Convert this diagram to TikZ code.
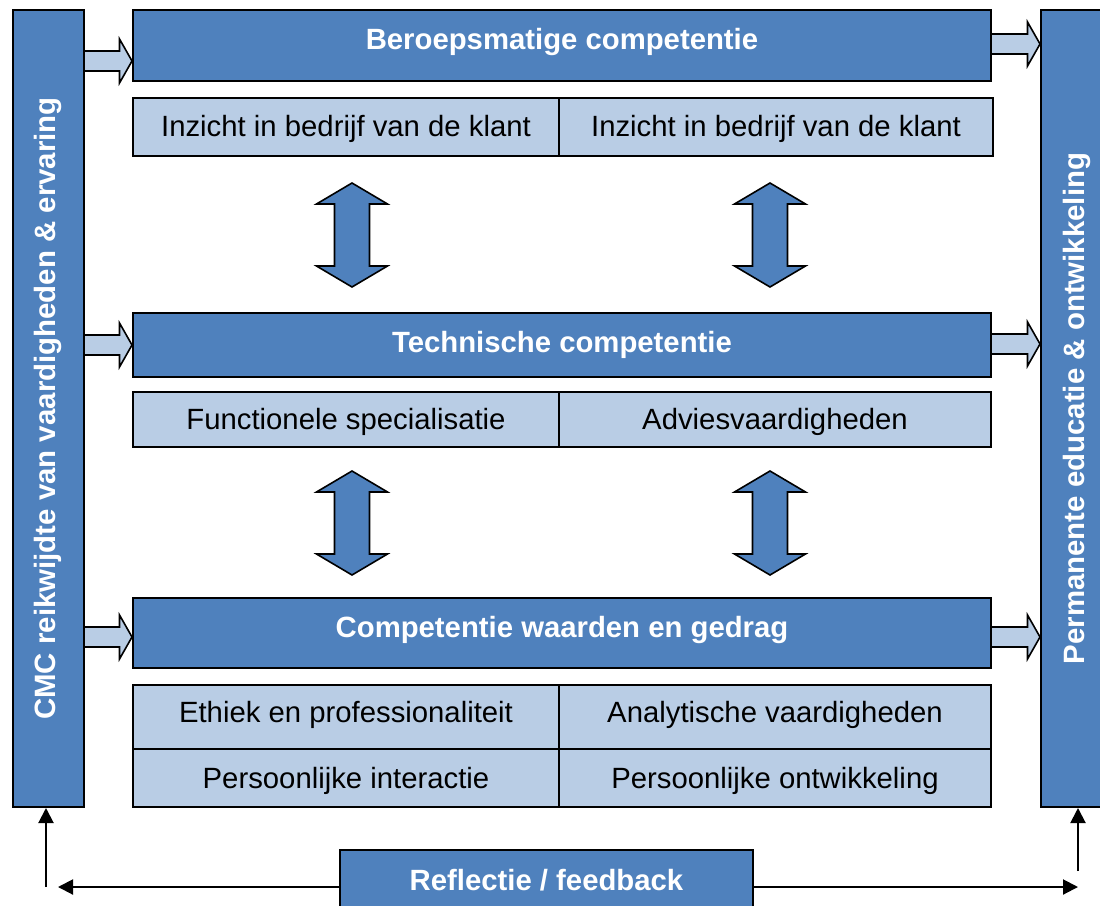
\documentclass[tikz,border=0pt]{standalone}
\usepackage{fontspec}
\setmainfont{Liberation Sans}
\usetikzlibrary{arrows.meta}
\definecolor{dblue}{HTML}{4F81BD}
\definecolor{lblue}{HTML}{B9CDE5}
\newcommand\myrarrow[3]{%
  \draw[barrow] (#1,#3-10) -- (#2-12.5,#3-10) -- (#2-12.5,#3-22) -- (#2,#3)
    -- (#2-12.5,#3+22) -- (#2-12.5,#3+10) -- (#1,#3+10) -- cycle;}
\newcommand\mydarrow[3]{%
  \draw[darrow] (#1,#2) -- (#1+35.5,#2+21) -- (#1+17.5,#2+21) -- (#1+17.5,#3-21)
    -- (#1+35.5,#3-21) -- (#1,#3) -- (#1-35.5,#3-21) -- (#1-17.5,#3-21)
    -- (#1-17.5,#2+21) -- (#1-35.5,#2+21) -- cycle;}
\begin{document}
\begin{tikzpicture}[x=1pt,y=-1pt,
  font=\fontsize{29.3}{34}\selectfont,
  box/.style={draw=black, line width=2pt, inner sep=0pt, anchor=north west,
    text height=20pt, text depth=0pt},
  hdr/.style={box, fill=dblue, text=white, font=\fontsize{29.3}{34}\selectfont\bfseries},
  cell/.style={box, fill=lblue},
  vtext/.style={rotate=90, text=white, inner sep=0pt, text height=13pt, text depth=0pt,
    font=\fontsize{29.4}{34}\selectfont\bfseries},
  barrow/.style={draw=black, line width=1.6pt, fill=lblue, line join=miter},
  darrow/.style={draw=black, line width=1.6pt, fill=dblue, line join=miter},
  fbline/.style={line width=2pt, -{Triangle[length=15pt,width=15pt]}}]
\useasboundingbox (0,0) rectangle (1100,905);
\clip (0,0) rectangle (1100,905);

% block arrows from left bar and to right bar
\myrarrow{83}{132}{61}
\myrarrow{83}{132}{345}
\myrarrow{83}{132}{637}
\myrarrow{990}{1040}{44}
\myrarrow{990}{1040}{344}
\myrarrow{990}{1040}{637}

% side bars
\node[hdr, minimum width=71pt, minimum height=797pt] (L) at (12,9) {};
\node[hdr, minimum width=73pt, minimum height=797pt] (R) at (1040,9) {};
\node[vtext] (Lt) at (L.center) {CMC reikwijdte van vaardigheden \& ervaring};
\node[vtext] (Rt) at (R.center) {Permanente educatie \& ontwikkeling};

% headers
\node[hdr, minimum width=858pt, minimum height=71pt, text depth=13pt] (h1) at (132,9) {Beroepsmatige competentie};
\node[hdr, minimum width=858pt, minimum height=64pt, text depth=6pt] (h2) at (132,312) {Technische competentie};
\node[hdr, minimum width=858pt, minimum height=70pt, text depth=12pt] (h3) at (132,597) {Competentie waarden en gedrag};

% cells
\node[cell, minimum width=426pt, minimum height=58pt, text depth=2pt] (c11) at (132,97) {Inzicht in bedrijf van de klant};
\node[cell, minimum width=434pt, minimum height=58pt, text depth=2pt] (c12) at (558,97) {Inzicht in bedrijf van de klant};
\node[cell, minimum width=426pt, minimum height=55pt] (c21) at (132,391) {Functionele specialisatie};
\node[cell, minimum width=432pt, minimum height=55pt] (c22) at (558,391) {Adviesvaardigheden};
\node[cell, minimum width=426pt, minimum height=64pt, text depth=10pt] (c31) at (132,684) {Ethiek en professionaliteit};
\node[cell, minimum width=432pt, minimum height=64pt, text depth=10pt] (c32) at (558,684) {Analytische vaardigheden};
\node[cell, minimum width=426pt, minimum height=58pt] (c41) at (132,748) {Persoonlijke interactie};
\node[cell, minimum width=432pt, minimum height=58pt] (c42) at (558,748) {Persoonlijke ontwikkeling};

% double arrows
\mydarrow{352}{183}{287}
\mydarrow{770}{183}{287}
\mydarrow{352}{471}{575}
\mydarrow{770}{471}{575}

% feedback
\node[hdr, minimum width=413pt, minimum height=64pt, text depth=4pt] (fb) at (339,849) {Reflectie / feedback};
\coordinate (fl) at (58,887);
\coordinate (fr) at (1078,887);
\coordinate (vl) at (46,887);
\coordinate (vr) at (1078,871);
\draw[fbline] (fl -| fb.west) -- (fl);
\draw[fbline] (fr -| fb.east) -- (fr);
\draw[fbline] (vl) -- (vl |- L.south);
\draw[fbline] (vr) -- (vr |- R.south);
\end{tikzpicture}
\end{document}
